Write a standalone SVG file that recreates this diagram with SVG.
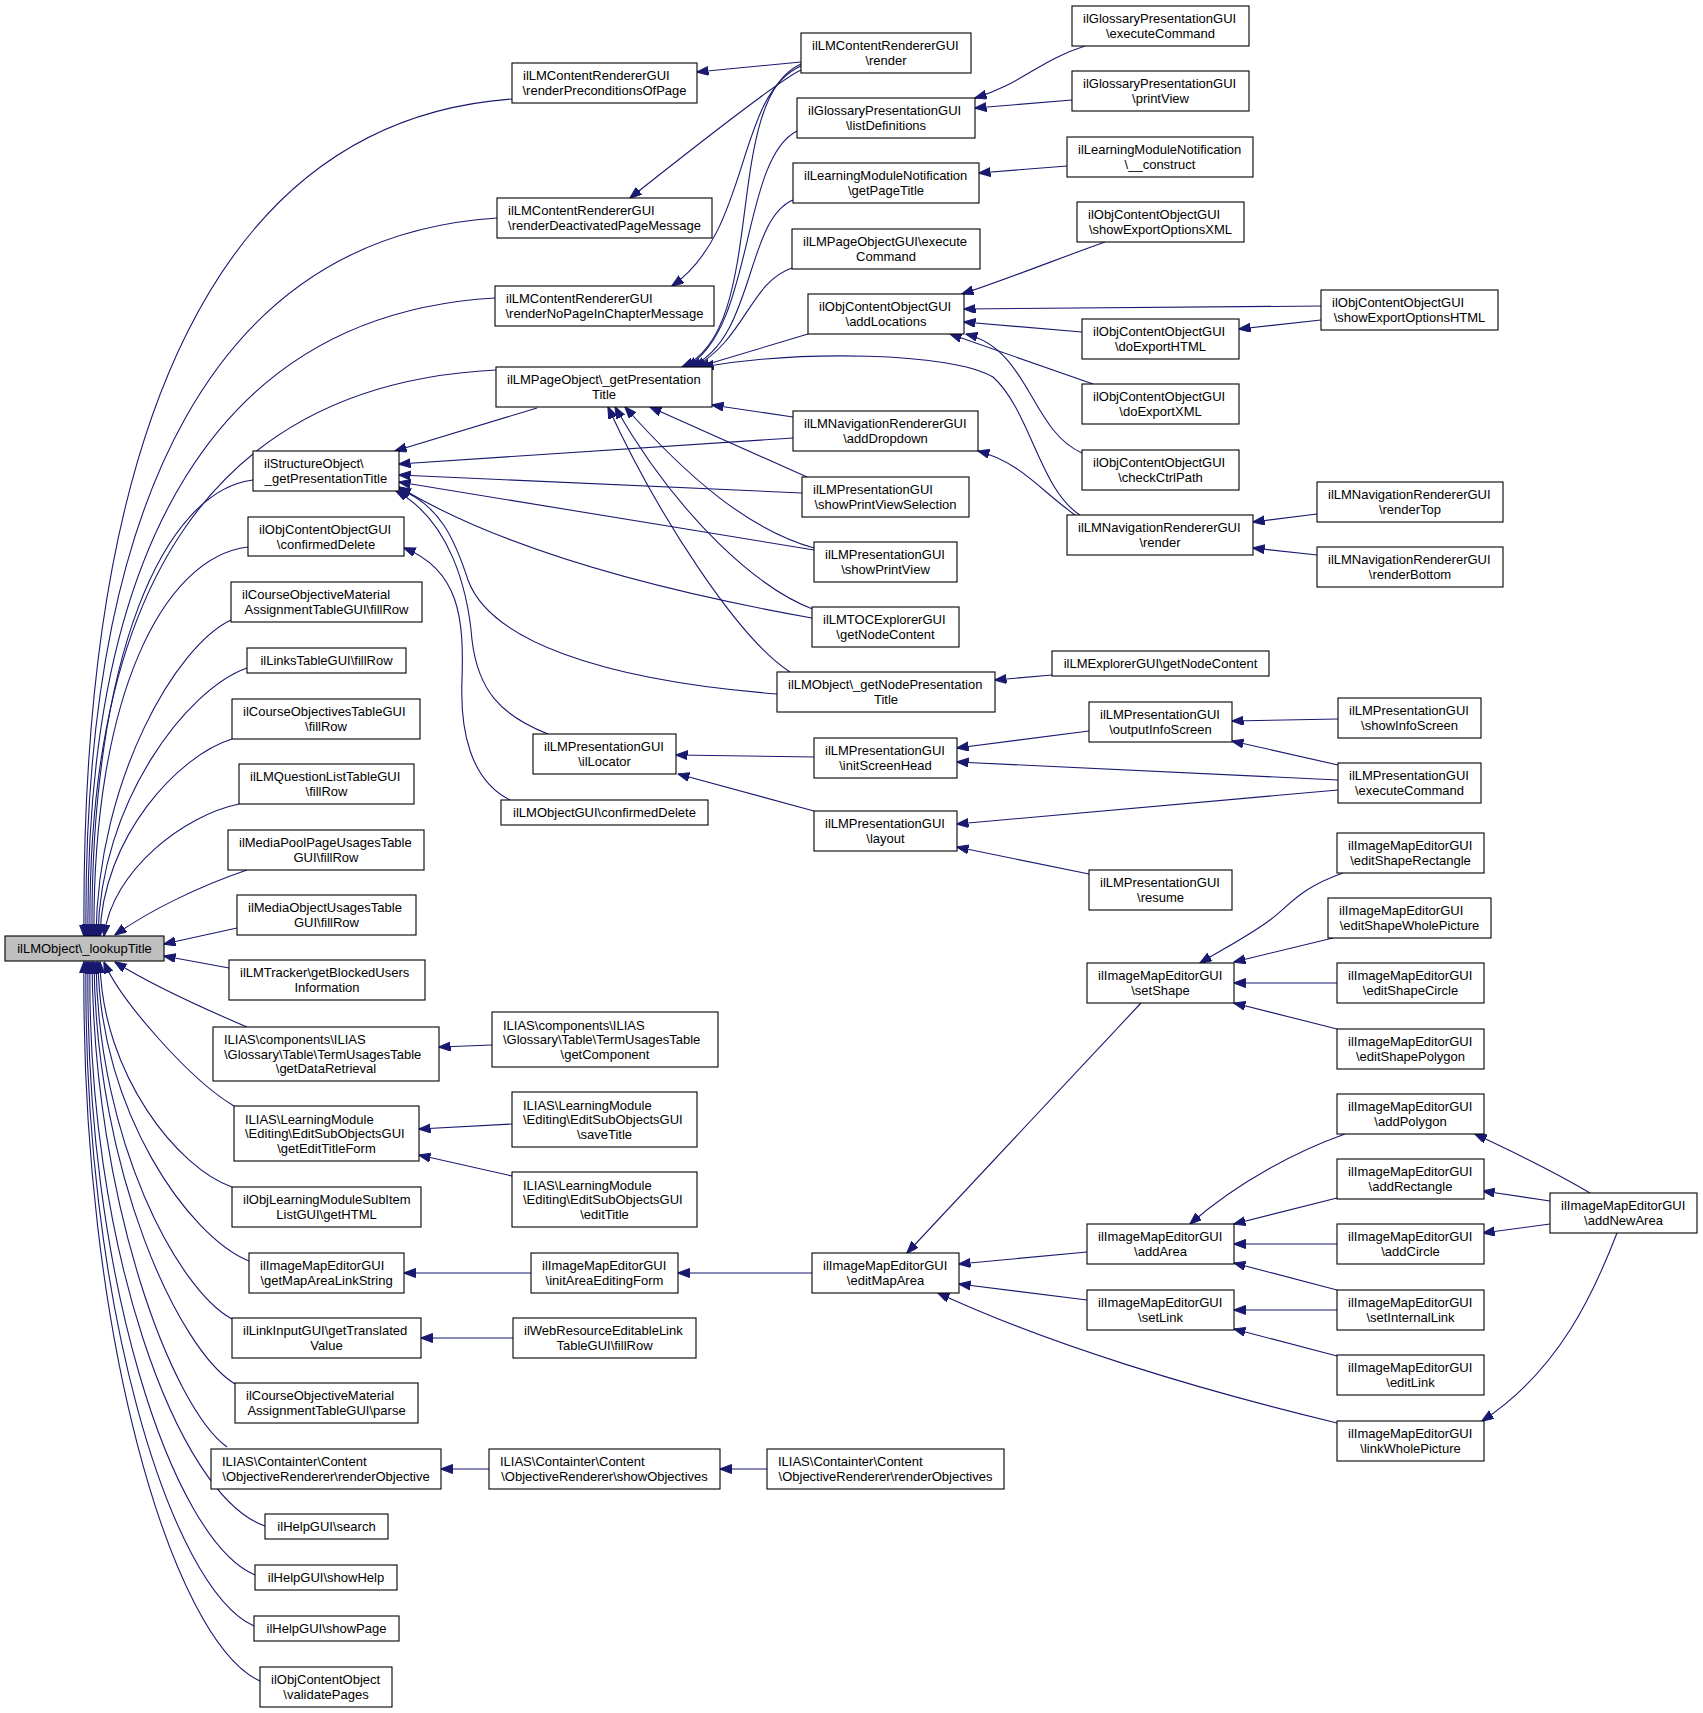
<svg xmlns="http://www.w3.org/2000/svg" width="1703" height="1713" viewBox="0 0 1703 1713">
<style>
.n rect{fill:#fff;stroke:#000;stroke-width:1.1}
#n1 rect{fill:#bfbfbf}
text{font-family:"Liberation Sans",Arial,Helvetica,sans-serif;font-size:13px;fill:#000}
.c{text-anchor:middle}
.e path{fill:none;stroke:#191970;stroke-width:1.1;marker-end:url(#a)}
</style>
<defs>
<marker id="a" markerUnits="userSpaceOnUse" markerWidth="12" markerHeight="10" refX="11.5" refY="4.5" orient="auto"><path d="M0,0 L12,4.5 L0,9 z" fill="#191970" stroke="#191970" stroke-width="1"/></marker>
</defs>
<rect width="1703" height="1713" fill="#fff"/>
<g id="edges" class="e">
<path d="M512,99 C221,120 80,421 84,936"/>
<path d="M497,218 C218,236 82,494 86,936"/>
<path d="M495,298 C218,314 84,544 88,936"/>
<path d="M496,370 C212,384 86,588 90,936"/>
<path d="M253,480 C164,491 90,656 92,936"/>
<path d="M248,547 C163,557 92,697 94,936"/>
<path d="M231,620 C177,645 98,778 96,936"/>
<path d="M247,668 C187,689 100,802 98,936"/>
<path d="M232,739 C179,755 102,837 100,936"/>
<path d="M239,804 C185,815 112,870 104,936"/>
<path d="M247,870 C200,886 150,910 115,935"/>
<path d="M237,928 L164,944"/>
<path d="M229,968 L164,956"/>
<path d="M247,1027 C200,1007 150,984 115,962"/>
<path d="M234,1106 C190,1080 120,1000 104,962"/>
<path d="M232,1187 C179,1169 102,1075 100,962"/>
<path d="M249,1261 C189,1237 100,1111 98,962"/>
<path d="M232,1319 C178,1290 98,1141 96,962"/>
<path d="M235,1384 C179,1350 96,1173 94,962"/>
<path d="M227,1447 C173,1408 94,1205 92,962"/>
<path d="M265,1526 C177,1496 86,1244 90,962"/>
<path d="M255,1575 C172,1540 84,1275 88,962"/>
<path d="M254,1626 C170,1588 82,1301 86,962"/>
<path d="M260,1681 C172,1641 80,1331 84,962"/>
<path d="M801,62 L697,72"/>
<path d="M801,70 Q780,79 630,198"/>
<path d="M801,66 C735,95 752,230 672,286"/>
<path d="M801,64 C720,100 770,330 682,367"/>
<path d="M797,131 C740,160 755,330 686,367"/>
<path d="M793,200 C745,220 755,340 690,367"/>
<path d="M792,268 C750,282 745,340 694,367"/>
<path d="M808,334 L698,367"/>
<path d="M1080,515 C1040,490 1030,410 993,377 C950,352 800,350 702,367"/>
<path d="M1075,515 C1040,490 1020,462 978,451"/>
<path d="M1317,514 L1253,522"/>
<path d="M1317,555 L1253,548"/>
<path d="M1085,46 C1040,60 1020,85 975,98"/>
<path d="M1072,100 L975,108"/>
<path d="M1067,166 L979,173"/>
<path d="M1105,242 C1060,258 1010,278 962,294"/>
<path d="M1321,306 L964,309"/>
<path d="M1082,332 L964,322"/>
<path d="M1321,320 L1239,329"/>
<path d="M1093,384 L950,334"/>
<path d="M1082,453 C1030,430 1030,350 966,334"/>
<path d="M814,757 L676,755"/>
<path d="M814,811 L678,774"/>
<path d="M1089,731 L957,748"/>
<path d="M1338,780 L957,762"/>
<path d="M1338,719 L1232,721"/>
<path d="M1338,765 L1232,741"/>
<path d="M1338,790 L957,824"/>
<path d="M1089,874 L957,847"/>
<path d="M1052,675 L995,680"/>
<path d="M537,408 L395,451"/>
<path d="M793,438 L399,464"/>
<path d="M802,493 L399,475"/>
<path d="M814,550 L399,482"/>
<path d="M812,618 C700,598 520,560 399,487"/>
<path d="M777,694 C600,680 490,640 468,580 C455,540 440,505 399,489"/>
<path d="M548,734 C500,715 478,690 472,640 C468,590 450,520 396,491"/>
<path d="M510,800 C470,780 460,730 462,680 C464,620 460,570 404,548"/>
<path d="M807,477 L650,407"/>
<path d="M814,548 C750,530 690,480 625,407"/>
<path d="M815,610 C760,590 680,520 615,407"/>
<path d="M790,672 C740,640 660,520 608,407"/>
<path d="M793,417 L712,405"/>
<path d="M492,1045 L439,1047"/>
<path d="M512,1124 L419,1129"/>
<path d="M512,1176 L419,1155"/>
<path d="M531,1273 L404,1273"/>
<path d="M812,1273 L678,1273"/>
<path d="M513,1338 L421,1338"/>
<path d="M489,1469 L441,1469"/>
<path d="M767,1469 L720,1469"/>
<path d="M1141,1003 L907,1253"/>
<path d="M1087,1252 L959,1264"/>
<path d="M1087,1300 L959,1284"/>
<path d="M1337,1423 C1200,1390 1050,1345 938,1293"/>
<path d="M1343,873 C1300,888 1290,905 1270,920 C1250,935 1225,948 1200,963"/>
<path d="M1333,938 L1234,962"/>
<path d="M1337,983 L1234,983"/>
<path d="M1337,1029 L1234,1003"/>
<path d="M1345,1134 C1300,1150 1240,1180 1190,1224"/>
<path d="M1337,1198 L1234,1224"/>
<path d="M1337,1244 L1234,1244"/>
<path d="M1337,1290 L1234,1263"/>
<path d="M1337,1310 L1234,1310"/>
<path d="M1337,1356 L1234,1329"/>
<path d="M1590,1193 C1560,1175 1520,1155 1475,1134"/>
<path d="M1550,1201 L1483,1191"/>
<path d="M1550,1224 L1483,1233"/>
<path d="M1617,1233 C1595,1290 1560,1370 1482,1421"/>
</g>
<g id="n1" class="n"><rect x="5" y="936" width="159" height="25"/><text x="84.5" y="953.2" class="c">ilLMObject\_lookupTitle</text></g>
<g id="n2" class="n"><rect x="512" y="63" width="185" height="40"/><text x="523" y="80.3">ilLMContentRendererGUI</text><text x="604.5" y="95" class="c">\renderPreconditionsOfPage</text></g>
<g id="n3" class="n"><rect x="497" y="198" width="215" height="40"/><text x="508" y="215.3">ilLMContentRendererGUI</text><text x="604.5" y="230" class="c">\renderDeactivatedPageMessage</text></g>
<g id="n4" class="n"><rect x="495" y="286" width="219" height="40"/><text x="506" y="303.3">ilLMContentRendererGUI</text><text x="604.5" y="318" class="c">\renderNoPageInChapterMessage</text></g>
<g id="n5" class="n"><rect x="496" y="367" width="216" height="40"/><text x="507" y="384.3">ilLMPageObject\_getPresentation</text><text x="604" y="399" class="c">Title</text></g>
<g id="n6" class="n"><rect x="253" y="451" width="146" height="40"/><text x="264" y="468.3">ilStructureObject\</text><text x="326" y="483" class="c">_getPresentationTitle</text></g>
<g id="n7" class="n"><rect x="248" y="517" width="156" height="39"/><text x="259" y="533.8">ilObjContentObjectGUI</text><text x="326" y="548.5" class="c">\confirmedDelete</text></g>
<g id="n8" class="n"><rect x="231" y="582" width="191" height="40"/><text x="242" y="599.3">ilCourseObjectiveMaterial</text><text x="326.5" y="614" class="c">AssignmentTableGUI\fillRow</text></g>
<g id="n9" class="n"><rect x="247" y="648" width="159" height="25"/><text x="326.5" y="665.2" class="c">ilLinksTableGUI\fillRow</text></g>
<g id="n10" class="n"><rect x="232" y="699" width="188" height="40"/><text x="243" y="716.3">ilCourseObjectivesTableGUI</text><text x="326" y="731" class="c">\fillRow</text></g>
<g id="n11" class="n"><rect x="239" y="764" width="175" height="40"/><text x="250" y="781.3">ilLMQuestionListTableGUI</text><text x="326.5" y="796" class="c">\fillRow</text></g>
<g id="n12" class="n"><rect x="228" y="830" width="196" height="40"/><text x="239" y="847.3">ilMediaPoolPageUsagesTable</text><text x="326" y="862" class="c">GUI\fillRow</text></g>
<g id="n13" class="n"><rect x="237" y="895" width="179" height="40"/><text x="248" y="912.3">ilMediaObjectUsagesTable</text><text x="326.5" y="927" class="c">GUI\fillRow</text></g>
<g id="n14" class="n"><rect x="229" y="960" width="196" height="40"/><text x="240" y="977.3">ilLMTracker\getBlockedUsers</text><text x="327" y="992" class="c">Information</text></g>
<g id="n15" class="n"><rect x="213" y="1027" width="226" height="54"/><text x="224" y="1044">ILIAS\components\ILIAS</text><text x="224" y="1058.7">\Glossary\Table\TermUsagesTable</text><text x="326" y="1073.4" class="c">\getDataRetrieval</text></g>
<g id="n16" class="n"><rect x="234" y="1106" width="185" height="55"/><text x="245" y="1123.5">ILIAS\LearningModule</text><text x="245" y="1138.2">\Editing\EditSubObjectsGUI</text><text x="326.5" y="1152.9" class="c">\getEditTitleForm</text></g>
<g id="n17" class="n"><rect x="232" y="1187" width="189" height="40"/><text x="243" y="1204.3">ilObjLearningModuleSubItem</text><text x="326.5" y="1219" class="c">ListGUI\getHTML</text></g>
<g id="n18" class="n"><rect x="249" y="1253" width="155" height="40"/><text x="260" y="1270.3">ilImageMapEditorGUI</text><text x="326.5" y="1285" class="c">\getMapAreaLinkString</text></g>
<g id="n19" class="n"><rect x="232" y="1318" width="189" height="40"/><text x="243" y="1335.3">ilLinkInputGUI\getTranslated</text><text x="326.5" y="1350" class="c">Value</text></g>
<g id="n20" class="n"><rect x="235" y="1383" width="183" height="40"/><text x="246" y="1400.3">ilCourseObjectiveMaterial</text><text x="326.5" y="1415" class="c">AssignmentTableGUI\parse</text></g>
<g id="n21" class="n"><rect x="211" y="1449" width="230" height="40"/><text x="222" y="1466.3">ILIAS\Containter\Content</text><text x="326" y="1481" class="c">\ObjectiveRenderer\renderObjective</text></g>
<g id="n22" class="n"><rect x="265" y="1514" width="123" height="25"/><text x="326.5" y="1531.2" class="c">ilHelpGUI\search</text></g>
<g id="n23" class="n"><rect x="255" y="1565" width="142" height="25"/><text x="326" y="1582.2" class="c">ilHelpGUI\showHelp</text></g>
<g id="n24" class="n"><rect x="254" y="1616" width="145" height="25"/><text x="326.5" y="1633.2" class="c">ilHelpGUI\showPage</text></g>
<g id="n25" class="n"><rect x="260" y="1667" width="132" height="40"/><text x="271" y="1684.3">ilObjContentObject</text><text x="326" y="1699" class="c">\validatePages</text></g>
<g id="n26" class="n"><rect x="801" y="33" width="170" height="40"/><text x="812" y="50.3">ilLMContentRendererGUI</text><text x="886" y="65" class="c">\render</text></g>
<g id="n27" class="n"><rect x="797" y="98" width="178" height="40"/><text x="808" y="115.3">ilGlossaryPresentationGUI</text><text x="886" y="130" class="c">\listDefinitions</text></g>
<g id="n28" class="n"><rect x="793" y="163" width="186" height="40"/><text x="804" y="180.3">ilLearningModuleNotification</text><text x="886" y="195" class="c">\getPageTitle</text></g>
<g id="n29" class="n"><rect x="792" y="229" width="188" height="40"/><text x="803" y="246.3">ilLMPageObjectGUI\execute</text><text x="886" y="261" class="c">Command</text></g>
<g id="n30" class="n"><rect x="808" y="294" width="156" height="40"/><text x="819" y="311.3">ilObjContentObjectGUI</text><text x="886" y="326" class="c">\addLocations</text></g>
<g id="n31" class="n"><rect x="793" y="411" width="185" height="40"/><text x="804" y="428.3">ilLMNavigationRendererGUI</text><text x="885.5" y="443" class="c">\addDropdown</text></g>
<g id="n32" class="n"><rect x="802" y="477" width="167" height="40"/><text x="813" y="494.3">ilLMPresentationGUI</text><text x="885.5" y="509" class="c">\showPrintViewSelection</text></g>
<g id="n33" class="n"><rect x="814" y="542" width="143" height="40"/><text x="825" y="559.3">ilLMPresentationGUI</text><text x="885.5" y="574" class="c">\showPrintView</text></g>
<g id="n34" class="n"><rect x="812" y="607" width="147" height="40"/><text x="823" y="624.3">ilLMTOCExplorerGUI</text><text x="885.5" y="639" class="c">\getNodeContent</text></g>
<g id="n35" class="n"><rect x="777" y="672" width="218" height="40"/><text x="788" y="689.3">ilLMObject\_getNodePresentation</text><text x="886" y="704" class="c">Title</text></g>
<g id="n36" class="n"><rect x="533" y="734" width="143" height="40"/><text x="544" y="751.3">ilLMPresentationGUI</text><text x="604.5" y="766" class="c">\ilLocator</text></g>
<g id="n37" class="n"><rect x="501" y="800" width="207" height="25"/><text x="604.5" y="817.2" class="c">ilLMObjectGUI\confirmedDelete</text></g>
<g id="n38" class="n"><rect x="492" y="1012" width="226" height="55"/><text x="503" y="1029.5">ILIAS\components\ILIAS</text><text x="503" y="1044.2">\Glossary\Table\TermUsagesTable</text><text x="605" y="1058.9" class="c">\getComponent</text></g>
<g id="n39" class="n"><rect x="512" y="1092" width="185" height="55"/><text x="523" y="1109.5">ILIAS\LearningModule</text><text x="523" y="1124.2">\Editing\EditSubObjectsGUI</text><text x="604.5" y="1138.9" class="c">\saveTitle</text></g>
<g id="n40" class="n"><rect x="512" y="1172" width="185" height="55"/><text x="523" y="1189.5">ILIAS\LearningModule</text><text x="523" y="1204.2">\Editing\EditSubObjectsGUI</text><text x="604.5" y="1218.9" class="c">\editTitle</text></g>
<g id="n41" class="n"><rect x="531" y="1253" width="147" height="40"/><text x="542" y="1270.3">ilImageMapEditorGUI</text><text x="604.5" y="1285" class="c">\initAreaEditingForm</text></g>
<g id="n42" class="n"><rect x="513" y="1318" width="183" height="40"/><text x="524" y="1335.3">ilWebResourceEditableLink</text><text x="604.5" y="1350" class="c">TableGUI\fillRow</text></g>
<g id="n43" class="n"><rect x="489" y="1449" width="231" height="40"/><text x="500" y="1466.3">ILIAS\Containter\Content</text><text x="604.5" y="1481" class="c">\ObjectiveRenderer\showObjectives</text></g>
<g id="n44" class="n"><rect x="814" y="738" width="143" height="40"/><text x="825" y="755.3">ilLMPresentationGUI</text><text x="885.5" y="770" class="c">\initScreenHead</text></g>
<g id="n45" class="n"><rect x="814" y="811" width="143" height="40"/><text x="825" y="828.3">ilLMPresentationGUI</text><text x="885.5" y="843" class="c">\layout</text></g>
<g id="n46" class="n"><rect x="812" y="1253" width="147" height="40"/><text x="823" y="1270.3">ilImageMapEditorGUI</text><text x="885.5" y="1285" class="c">\editMapArea</text></g>
<g id="n47" class="n"><rect x="767" y="1449" width="237" height="40"/><text x="778" y="1466.3">ILIAS\Containter\Content</text><text x="885.5" y="1481" class="c">\ObjectiveRenderer\renderObjectives</text></g>
<g id="n48" class="n"><rect x="1072" y="6" width="177" height="40"/><text x="1083" y="23.3">ilGlossaryPresentationGUI</text><text x="1160.5" y="38" class="c">\executeCommand</text></g>
<g id="n49" class="n"><rect x="1072" y="71" width="177" height="40"/><text x="1083" y="88.3">ilGlossaryPresentationGUI</text><text x="1160.5" y="103" class="c">\printView</text></g>
<g id="n50" class="n"><rect x="1067" y="137" width="186" height="40"/><text x="1078" y="154.3">ilLearningModuleNotification</text><text x="1160" y="169" class="c">\__construct</text></g>
<g id="n51" class="n"><rect x="1077" y="202" width="167" height="40"/><text x="1088" y="219.3">ilObjContentObjectGUI</text><text x="1160.5" y="234" class="c">\showExportOptionsXML</text></g>
<g id="n52" class="n"><rect x="1082" y="319" width="157" height="40"/><text x="1093" y="336.3">ilObjContentObjectGUI</text><text x="1160.5" y="351" class="c">\doExportHTML</text></g>
<g id="n53" class="n"><rect x="1082" y="384" width="157" height="40"/><text x="1093" y="401.3">ilObjContentObjectGUI</text><text x="1160.5" y="416" class="c">\doExportXML</text></g>
<g id="n54" class="n"><rect x="1082" y="450" width="157" height="40"/><text x="1093" y="467.3">ilObjContentObjectGUI</text><text x="1160.5" y="482" class="c">\checkCtrlPath</text></g>
<g id="n55" class="n"><rect x="1067" y="515" width="186" height="40"/><text x="1078" y="532.3">ilLMNavigationRendererGUI</text><text x="1160" y="547" class="c">\render</text></g>
<g id="n56" class="n"><rect x="1052" y="651" width="217" height="25"/><text x="1160.5" y="668.2" class="c">ilLMExplorerGUI\getNodeContent</text></g>
<g id="n57" class="n"><rect x="1089" y="702" width="143" height="40"/><text x="1100" y="719.3">ilLMPresentationGUI</text><text x="1160.5" y="734" class="c">\outputInfoScreen</text></g>
<g id="n58" class="n"><rect x="1089" y="870" width="143" height="40"/><text x="1100" y="887.3">ilLMPresentationGUI</text><text x="1160.5" y="902" class="c">\resume</text></g>
<g id="n59" class="n"><rect x="1087" y="963" width="147" height="40"/><text x="1098" y="980.3">ilImageMapEditorGUI</text><text x="1160.5" y="995" class="c">\setShape</text></g>
<g id="n60" class="n"><rect x="1087" y="1224" width="147" height="40"/><text x="1098" y="1241.3">ilImageMapEditorGUI</text><text x="1160.5" y="1256" class="c">\addArea</text></g>
<g id="n61" class="n"><rect x="1087" y="1290" width="147" height="40"/><text x="1098" y="1307.3">ilImageMapEditorGUI</text><text x="1160.5" y="1322" class="c">\setLink</text></g>
<g id="n62" class="n"><rect x="1321" y="290" width="177" height="40"/><text x="1332" y="307.3">ilObjContentObjectGUI</text><text x="1409.5" y="322" class="c">\showExportOptionsHTML</text></g>
<g id="n63" class="n"><rect x="1317" y="482" width="186" height="40"/><text x="1328" y="499.3">ilLMNavigationRendererGUI</text><text x="1410" y="514" class="c">\renderTop</text></g>
<g id="n64" class="n"><rect x="1317" y="547" width="186" height="40"/><text x="1328" y="564.3">ilLMNavigationRendererGUI</text><text x="1410" y="579" class="c">\renderBottom</text></g>
<g id="n65" class="n"><rect x="1338" y="698" width="143" height="40"/><text x="1349" y="715.3">ilLMPresentationGUI</text><text x="1409.5" y="730" class="c">\showInfoScreen</text></g>
<g id="n66" class="n"><rect x="1338" y="763" width="143" height="40"/><text x="1349" y="780.3">ilLMPresentationGUI</text><text x="1409.5" y="795" class="c">\executeCommand</text></g>
<g id="n67" class="n"><rect x="1337" y="833" width="147" height="40"/><text x="1348" y="850.3">ilImageMapEditorGUI</text><text x="1410.5" y="865" class="c">\editShapeRectangle</text></g>
<g id="n68" class="n"><rect x="1328" y="898" width="163" height="40"/><text x="1339" y="915.3">ilImageMapEditorGUI</text><text x="1409.5" y="930" class="c">\editShapeWholePicture</text></g>
<g id="n69" class="n"><rect x="1337" y="963" width="147" height="40"/><text x="1348" y="980.3">ilImageMapEditorGUI</text><text x="1410.5" y="995" class="c">\editShapeCircle</text></g>
<g id="n70" class="n"><rect x="1337" y="1029" width="147" height="40"/><text x="1348" y="1046.3">ilImageMapEditorGUI</text><text x="1410.5" y="1061" class="c">\editShapePolygon</text></g>
<g id="n71" class="n"><rect x="1337" y="1094" width="147" height="40"/><text x="1348" y="1111.3">ilImageMapEditorGUI</text><text x="1410.5" y="1126" class="c">\addPolygon</text></g>
<g id="n72" class="n"><rect x="1337" y="1159" width="147" height="40"/><text x="1348" y="1176.3">ilImageMapEditorGUI</text><text x="1410.5" y="1191" class="c">\addRectangle</text></g>
<g id="n73" class="n"><rect x="1337" y="1224" width="147" height="40"/><text x="1348" y="1241.3">ilImageMapEditorGUI</text><text x="1410.5" y="1256" class="c">\addCircle</text></g>
<g id="n74" class="n"><rect x="1337" y="1290" width="147" height="40"/><text x="1348" y="1307.3">ilImageMapEditorGUI</text><text x="1410.5" y="1322" class="c">\setInternalLink</text></g>
<g id="n75" class="n"><rect x="1337" y="1355" width="147" height="40"/><text x="1348" y="1372.3">ilImageMapEditorGUI</text><text x="1410.5" y="1387" class="c">\editLink</text></g>
<g id="n76" class="n"><rect x="1337" y="1421" width="147" height="40"/><text x="1348" y="1438.3">ilImageMapEditorGUI</text><text x="1410.5" y="1453" class="c">\linkWholePicture</text></g>
<g id="n77" class="n"><rect x="1550" y="1193" width="147" height="40"/><text x="1561" y="1210.3">ilImageMapEditorGUI</text><text x="1623.5" y="1225" class="c">\addNewArea</text></g>
</svg>
